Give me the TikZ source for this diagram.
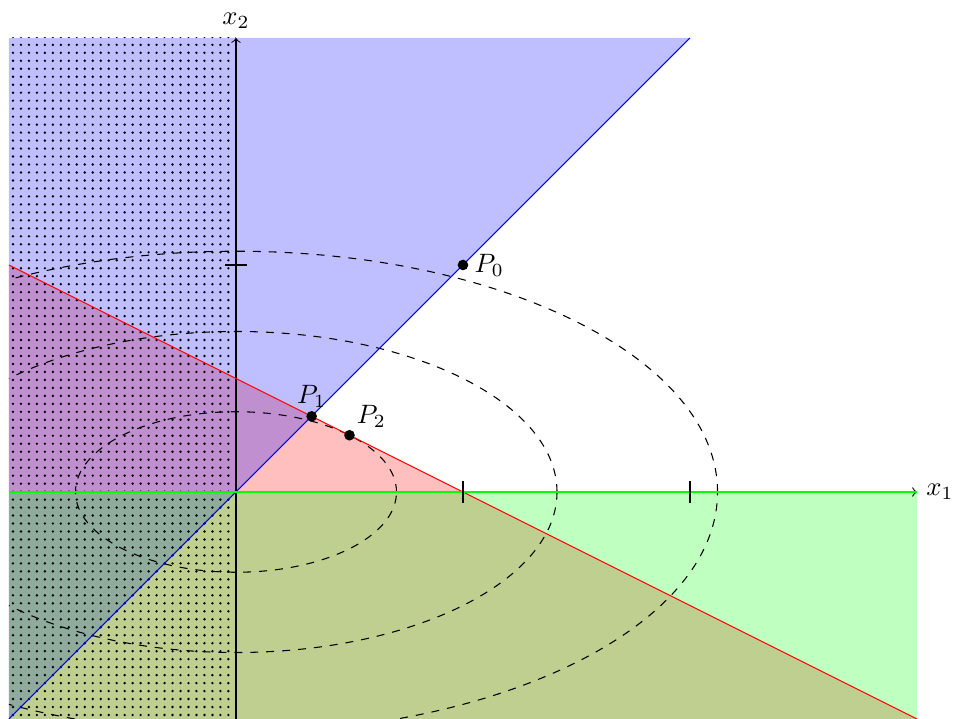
\documentclass[tikz,border=0pt]{standalone}
\begin{document}
\begin{tikzpicture}[x=3cm,y=3cm,
  region/.style={fill opacity=0.25},
  level/.style={dashed},
  dotpt/.style={circle,fill=black,inner sep=0pt,minimum size=4pt},
  tickmark/.style={thin}]
\useasboundingbox (-1.0396,-1) rectangle (3.163,2.1674);
% regions
\fill[red,region] (-1,1) -- (3,-1) -- (-1,-1) -- cycle;
\fill[blue,region] (-1,-1) -- (2,2) -- (-1,2) -- cycle;
\fill[green,region] (-1,-1) rectangle (3,0);
% dotted region x1 <= 0
\begin{scope}
\clip (-1,-1) rectangle (0,2);
\foreach \i in {0,...,28}{
  \foreach \j in {0,...,85}{
    \fill[shift={(-1,-1)}] (\i*3pt+1.5pt,\j*3pt+1.5pt) circle (0.5pt);
  }
}
\end{scope}
% level sets
\begin{scope}
\clip (-1,-1) rectangle (3,2);
\draw[level] (0,0) ellipse [x radius=0.70711, y radius=0.35355];
\draw[level] (0,0) ellipse [x radius=1.41421, y radius=0.70711];
\draw[level] (0,0) ellipse [x radius=2.12132, y radius=1.06066];
\end{scope}
% axes
\coordinate (O) at (0,0);
\draw[->] (-1,0) -- (3,0) node[right] (lx1) {$x_1$};
\draw[->] (0,-1) -- (0,2) node[above] (lx2) {$x_2$};
% constraint lines
\draw[red] (-1,1) -- (3,-1);
\draw[blue] (-1,-1) -- (2,2);
\draw[green] (-1,0) -- (3,0);
% ticks
\draw[tickmark] (1,0) ++(0,4pt) -- ++(0,-8pt);
\draw[tickmark] (2,0) ++(0,4pt) -- ++(0,-8pt);
\draw[tickmark] (0,1) ++(4pt,0) -- ++(-8pt,0);
% points
\node[dotpt,label={[inner sep=2pt]right:$P_0$}] (P0) at (1,1) {};
\node[dotpt,label={[inner sep=1pt]above:$P_1$}] (P1) at (1/3,1/3) {};
\node[dotpt,label={[inner sep=1pt]above right:$P_2$}] (P2) at (0.5,0.25) {};
\end{tikzpicture}
\end{document}
